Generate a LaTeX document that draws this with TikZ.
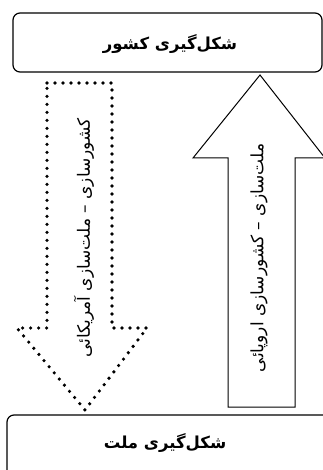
\documentclass[tikz,border=0pt]{standalone}
\usepackage{fontspec}
\newfontfamily\fa[Script=Arabic]{DejaVu Sans}
\TeXXeTstate=1
\begin{document}
\begin{tikzpicture}[x=1pt,y=-1pt,
  box/.style={draw=black,line width=1.2pt,rounded corners=7pt},
  boxtext/.style={font=\fa\bfseries\fontsize{16.5}{18}\selectfont},
  arrtext/.style={font=\fa\fontsize{17}{19}\selectfont,rotate=90}]
\useasboundingbox (0,0) rectangle (323,470);
% boxes
\draw[box] (13,13) rectangle (322,72);
\node[boxtext] (top) at (170,44) {\beginR شکل‌گیری کشور\endR};
\draw[box] (7,415) rectangle (340,490);
\node[boxtext] (bot) at (165,443) {\beginR شکل‌گیری ملت\endR};
% dotted arrow (down)
\draw[line width=3.6pt,line cap=round,dash pattern=on 0pt off 8pt]
  (47,83) -- (112,83) -- (112,328) -- (147,328) -- (85,410) -- (17,328) -- (47,328) -- cycle;
\node[arrtext] (dlab) at (84,238) {\beginR کشورسازی – ملت‌سازی آمریکائی\endR};
% solid arrow (up)
\draw[line width=1pt,line join=miter]
  (260,75) -- (325,158) -- (295,158) -- (295,407) -- (228,407) -- (228,158) -- (193,158) -- cycle;
\node[arrtext] (ulab) at (259,258) {\beginR ملت‌سازی – کشورسازی اروپائی\endR};
\end{tikzpicture}
\end{document}
